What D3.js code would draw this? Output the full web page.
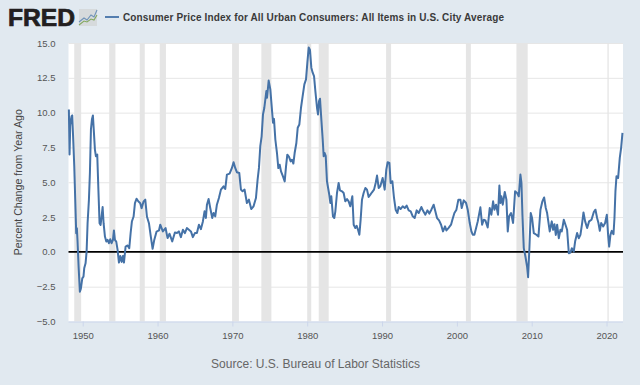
<!DOCTYPE html>
<html>
<head>
<meta charset="utf-8">
<script src="https://cdn.jsdelivr.net/npm/d3@7"></script>
<style>
    html, body { margin: 0; padding: 0; background: #e1e9f0; }
    svg { display: block; font-family: "Liberation Sans", Arial, sans-serif; }
</style>
</head>
<body>
<div id="chart"></div>
<script>
// CPI percent change from year ago as [year, percent]
const cpi1940s = [[1948.15,10.23],[1948.24,6.99],[1948.33,9.03],[1948.42,9.5],[1948.51,9.75],[1948.6,9.8],[1948.73,8.07],[1948.87,6.15],[1949,3.75],[1949.13,1.34],[1949.22,1.7],[1949.31,0.74],[1949.45,-1.06],[1949.62,-2.86],[1949.76,-2.62],[1949.94,-1.9]];
const cpi1950s = [[1950.1,-1.78],[1950.2,-1.18],[1950.38,-0.82],[1950.52,0.02],[1950.65,2.06],[1950.83,3.75],[1950.96,5.67],[1951.1,8.8],[1951.23,9.5],[1951.36,9.8],[1951.5,8.55],[1951.63,7.35],[1951.76,6.87],[1951.94,6.99],[1952.08,4.7],[1952.25,2.06],[1952.39,1.94],[1952.52,2.54],[1952.66,3.22],[1952.79,2.06],[1952.97,1.1],[1953.15,0.74],[1953.32,0.86],[1953.5,0.62],[1953.68,0.91],[1953.86,0.62],[1954.04,0.86],[1954.17,1.54],[1954.3,0.86],[1954.48,0.74],[1954.66,0.14],[1954.84,-0.77],[1955.02,-0.29],[1955.2,-0.72],[1955.37,-0.29],[1955.51,-0.77],[1955.73,0.38],[1956,0.46],[1956.22,0.26],[1956.4,1.34],[1956.57,2.18],[1956.8,2.54],[1956.98,3.5],[1957.2,3.82],[1957.42,3.63],[1957.69,3.5],[1957.87,3.14],[1958.14,3.63],[1958.36,3.75],[1958.58,2.54],[1958.85,2.06],[1959.1,1.1],[1959.34,0.22],[1959.56,0.86],[1959.87,1.46]];
const cpi1960s = [[1960.19,1.54],[1960.36,1.95],[1960.71,1.47],[1961.07,1.71],[1961.34,0.99],[1961.6,1.3],[1961.96,0.75],[1962.32,1.39],[1962.59,1.35],[1962.85,1.47],[1963.12,1.06],[1963.39,1.59],[1963.65,1.35],[1963.92,1.71],[1964.19,1.59],[1964.46,1.47],[1964.72,1.06],[1964.99,1.35],[1965.26,1.35],[1965.53,1.95],[1965.79,1.63],[1966.06,2.19],[1966.28,2.91],[1966.46,2.43],[1966.6,3.39],[1966.82,3.8],[1967.04,3.15],[1967.31,2.43],[1967.49,2.79],[1967.71,2.55],[1967.93,3.39],[1968.2,3.87],[1968.47,4.47],[1968.82,4.71],[1969.05,4.52],[1969.27,5.55],[1969.63,5.62],[1969.94,6.03]];
const cpi1970s = [[1970.16,6.44],[1970.38,6.03],[1970.6,5.72],[1970.92,5.67],[1971.14,4.47],[1971.36,4.35],[1971.63,4.47],[1971.94,3.51],[1972.21,3.75],[1972.52,3.08],[1972.83,3.27],[1973.15,3.87],[1973.37,5.19],[1973.55,6.03],[1973.73,7.59],[1973.91,8.3],[1974.09,9.87],[1974.27,10.35],[1974.54,11.55],[1974.63,11.07],[1974.85,12.3],[1975.07,11.67],[1975.25,10.47],[1975.43,9.27],[1975.56,9.55],[1975.74,8.07],[1975.96,7.1],[1976.14,6.02],[1976.32,6.26],[1976.5,5.78],[1976.76,5.42],[1976.99,5.06],[1977.17,6.14],[1977.34,6.98],[1977.57,6.82],[1977.79,6.5],[1977.97,6.62],[1978.15,6.34],[1978.32,7.1],[1978.55,7.82],[1978.73,8.91],[1978.95,9.15],[1979.17,10.35],[1979.39,11.19],[1979.62,12.03],[1979.84,12.39]];
const cpi1980s = [[1980.02,13.59],[1980.2,14.67],[1980.37,14.5],[1980.55,13.23],[1980.73,12.87],[1980.91,12.63],[1981.09,11.55],[1981.31,10.35],[1981.44,9.87],[1981.58,10.83],[1981.71,11],[1981.89,9.5],[1982.07,8.07],[1982.2,6.87],[1982.33,7.1],[1982.47,6.9],[1982.64,5.07],[1982.95,4.1],[1983.09,3.51],[1983.22,3.99],[1983.44,2.55],[1983.62,2.43],[1983.76,2.91],[1983.98,4.23],[1984.2,4.95],[1984.38,4.42],[1984.65,4.35],[1984.87,4.23],[1985.09,3.63],[1985.32,3.79],[1985.54,3.63],[1985.76,3.27],[1986.03,3.99],[1986.21,1.95],[1986.43,1.71],[1986.61,1.87],[1986.79,1.59],[1986.97,1.23],[1987.14,2.31],[1987.32,3.75],[1987.54,4.23],[1987.77,4.59],[1987.99,4.47],[1988.21,3.94],[1988.44,4.11],[1988.66,4.28],[1988.93,4.47],[1989.15,4.95],[1989.33,5.48],[1989.55,4.59],[1989.77,4.71]];
const cpi1990s = [[1990.08,5.31],[1990.35,4.47],[1990.57,5.91],[1990.75,6.44],[1990.98,6.39],[1991.15,4.95],[1991.38,5.07],[1991.6,3.87],[1991.82,3.03],[1992.05,2.79],[1992.22,3.22],[1992.49,3.08],[1992.76,3.27],[1993.03,3.15],[1993.29,3.32],[1993.56,2.98],[1993.83,2.91],[1994.1,2.55],[1994.36,2.43],[1994.63,2.98],[1994.9,2.79],[1995.25,3.22],[1995.52,2.91],[1995.79,2.67],[1996.06,2.98],[1996.32,2.75],[1996.59,3.03],[1996.9,3.39],[1997.13,2.9],[1997.35,2.43],[1997.62,2.26],[1997.89,1.95],[1998.15,1.47],[1998.42,1.83],[1998.6,1.54],[1998.87,1.71],[1999.22,1.95],[1999.4,2.31],[1999.67,2.79],[1999.94,3.03]];
const cpi2000s = [[2000.2,3.75],[2000.47,3.75],[2000.65,3.15],[2000.92,3.7],[2001.23,3.51],[2001.45,3.03],[2001.72,2.07],[2001.94,1.47],[2002.12,1.23],[2002.34,1.23],[2002.57,1.71],[2002.79,2.19],[2003.14,3.2],[2003.37,1.95],[2003.59,2.31],[2003.81,2.26],[2004.12,1.75],[2004.39,3.15],[2004.61,2.67],[2004.84,3.63],[2005.02,3.03],[2005.24,3.39],[2005.5,2.67],[2005.68,4.76],[2005.82,3.51],[2005.95,3.99],[2006.13,3.39],[2006.4,4.3],[2006.62,3.75],[2006.8,1.47],[2006.98,2.55],[2007.24,2.79],[2007.51,2.07],[2007.78,4.35],[2008.05,4.23],[2008.27,3.99],[2008.49,5.55],[2008.63,4.95],[2008.76,2.67],[2008.94,0.27],[2009.16,-0.33],[2009.38,-1.05],[2009.52,-1.82],[2009.7,0.39],[2009.87,2.79]];
const cpi2010s = [[2010.05,2.43],[2010.28,1.35],[2010.63,1.23],[2010.9,1.1],[2011.17,3.03],[2011.43,3.63],[2011.66,3.91],[2011.88,3.15],[2012.06,2.79],[2012.28,1.95],[2012.41,1.47],[2012.68,2.19],[2012.86,1.59],[2013.04,1.99],[2013.22,1.22],[2013.4,1.95],[2013.62,0.98],[2013.84,1.59],[2014.02,1.47],[2014.29,2.31],[2014.51,1.95],[2014.73,1.59],[2014.96,-0.1],[2015.18,-0.05],[2015.36,0.26],[2015.62,0.02],[2015.8,0.74],[2016.07,1.35],[2016.29,0.98],[2016.51,1.22],[2016.74,2.07],[2016.92,2.83],[2017.14,2.19],[2017.41,1.71],[2017.67,2.19],[2017.99,2.31],[2018.3,2.86],[2018.52,3.03],[2018.74,2.43],[2018.92,2.07],[2019.1,1.51],[2019.28,2.07],[2019.55,1.83],[2019.81,2.07]];
const cpi2020s = [[2020.04,2.67],[2020.21,1.22],[2020.35,0.38],[2020.52,1.22],[2020.7,1.51],[2020.93,1.27],[2021.06,2.43],[2021.19,4.35],[2021.33,5.43],[2021.55,5.31],[2021.77,6.75],[2021.95,7.47],[2022.13,8.55]];

const recessions = [[1948.87,1949.79],[1953.54,1954.37],[1957.62,1958.29],[1960.29,1961.12],[1969.96,1970.87],[1973.87,1975.21],[1980.0,1980.54],[1981.54,1982.87],[1990.54,1991.21],[2001.21,2001.87],[2007.96,2009.46],[2020.12,2020.29]];

const yTicks = [-5, -2.5, 0, 2.5, 5, 7.5, 10, 12.5, 15];
const xTicks = [1950, 1960, 1970, 1980, 1990, 2000, 2010, 2020];
const seriesTitle = "Consumer Price Index for All Urban Consumers: All Items in U.S. City Average";
const yAxisTitle = "Percent Change from Year Ago";
const sourceText = "Source: U.S. Bureau of Labor Statistics";

const cpiData = [].concat(cpi1940s, cpi1950s, cpi1960s, cpi1970s, cpi1980s, cpi1990s, cpi2000s, cpi2010s, cpi2020s);

const CONFIG = {
    width: 640,
    height: 385,
    plot: { left: 68.5, right: 623, top: 43, bottom: 321.5 }
};

const { width, height, plot } = CONFIG;

const svg = d3.select("#chart")
    .append("svg")
    .attr("width", width)
    .attr("height", height);

svg.append("rect")
    .attr("width", width)
    .attr("height", height)
    .attr("fill", "#e1e9f0");

svg.append("rect")
    .attr("x", plot.left)
    .attr("y", plot.top)
    .attr("width", plot.right - plot.left)
    .attr("height", plot.bottom - plot.top)
    .attr("fill", "#fff");

// Scales
const xScale = d3.scaleLinear().domain([1948.1, 2022.2]).range([plot.left, plot.right]);
const yScale = d3.scaleLinear().domain([-5, 15]).range([plot.bottom, plot.top]);

// Grid lines
svg.append("g")
    .attr("transform", `translate(${plot.left},0)`)
    .call(d3.axisLeft(yScale).tickValues(yTicks.filter(d => d !== -5 && d !== 0)).tickSize(-(plot.right - plot.left)).tickFormat(""))
    .call(g => g.select(".domain").remove())
    .selectAll("line")
    .attr("stroke", "#e6e6e6")
    .attr("stroke-width", 1);

// Recession bands sit over the grid
svg.append("g")
    .selectAll("rect")
    .data(recessions)
    .join("rect")
    .attr("x", d => xScale(d[0]))
    .attr("y", plot.top)
    .attr("width", d => xScale(d[1]) - xScale(d[0]))
    .attr("height", plot.bottom - plot.top)
    .attr("fill", "#e5e5e5");

// Y axis labels
svg.append("g")
    .attr("transform", `translate(${plot.left},0)`)
    .call(d3.axisLeft(yScale).tickValues(yTicks).tickSize(0).tickPadding(13).tickFormat(d3.format(".1f")))
    .call(g => g.select(".domain").remove())
    .selectAll("text")
    .attr("fill", "#555")
    .style("font-size", "9.5px")
    .style("font-family", "inherit");

// X axis
svg.append("g")
    .attr("transform", `translate(0,${plot.bottom})`)
    .call(d3.axisBottom(xScale).tickValues(xTicks).tickSize(5).tickPadding(6).tickFormat(d3.format("d")))
    .call(g => g.select(".domain").attr("stroke", "#ccd6eb").attr("d", `M${plot.left},0.5H${plot.right}`))
    .call(g => g.selectAll("line").attr("stroke", "#ccd6eb"))
    .selectAll("text")
    .attr("fill", "#555")
    .style("font-size", "9.5px")
    .style("font-family", "inherit");

// Zero line
svg.append("line")
    .attr("x1", plot.left)
    .attr("x2", plot.right)
    .attr("y1", yScale(0))
    .attr("y2", yScale(0))
    .attr("stroke", "#000")
    .attr("stroke-width", 1.6);

// CPI series
const line = d3.line()
    .x(d => xScale(d[0]))
    .y(d => yScale(d[1]));

svg.append("path")
    .datum(cpiData)
    .attr("fill", "none")
    .attr("stroke", "#4572a7")
    .attr("stroke-width", 2)
    .attr("stroke-linejoin", "round")
    .attr("d", line);

// Y axis title
svg.append("text")
    .attr("transform", `translate(22,${(plot.top + plot.bottom) / 2}) rotate(-90)`)
    .attr("text-anchor", "middle")
    .attr("font-size", 10.6)
    .attr("fill", "#444")
    .text(yAxisTitle);

// Source
svg.append("text")
    .attr("x", 315.5)
    .attr("y", 368)
    .attr("text-anchor", "middle")
    .attr("font-size", 12)
    .attr("fill", "#666")
    .text(sourceText);

// Legend
svg.append("line")
    .attr("x1", 105)
    .attr("x2", 119)
    .attr("y1", 17)
    .attr("y2", 17)
    .attr("stroke", "#4572a7")
    .attr("stroke-width", 1.8);

svg.append("text")
    .attr("x", 123)
    .attr("y", 20.5)
    .attr("font-size", 10)
    .attr("font-weight", "bold")
    .attr("fill", "#3a3a3a")
    .attr("textLength", 381)
    .attr("lengthAdjust", "spacing")
    .text(seriesTitle);

// FRED logo
const logo = svg.append("g");

logo.append("text")
    .attr("x", 8)
    .attr("y", 26)
    .attr("font-size", 23)
    .attr("font-weight", "bold")
    .attr("fill", "#231f20")
    .attr("stroke", "#231f20")
    .attr("stroke-width", 0.7)
    .attr("textLength", 67)
    .attr("lengthAdjust", "spacingAndGlyphs")
    .text("FRED");

logo.append("rect")
    .attr("x", 79)
    .attr("y", 9)
    .attr("width", 18)
    .attr("height", 17)
    .attr("fill", "#d6dadc");

logo.append("path")
    .attr("d", "M79,22 L84,18 L87,20 L91,15 L94,17 L97,10")
    .attr("fill", "none")
    .attr("stroke", "#6f93b8")
    .attr("stroke-width", 1.1);

logo.append("path")
    .attr("d", "M79,25 L84,21 L87,22 L91,19 L94,20 L97,15")
    .attr("fill", "none")
    .attr("stroke", "#84a860")
    .attr("stroke-width", 1.1);
</script>
</body>
</html>
